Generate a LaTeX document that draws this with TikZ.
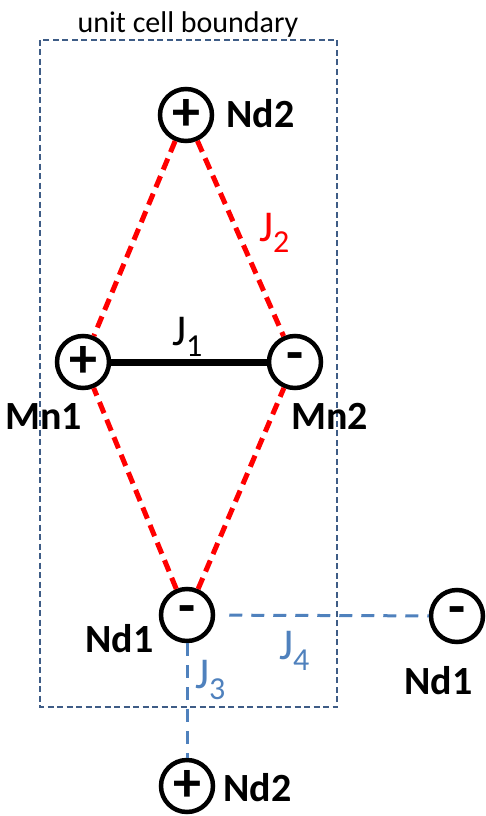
\documentclass[tikz,border=0pt]{standalone}
\usepackage{fontspec}
\setmainfont{Carlito}
\definecolor{jblue}{RGB}{79,129,189}
\definecolor{cellblue}{RGB}{62,92,134}
\definecolor{jred}{RGB}{255,0,0}
\newcommand\Jlab[1]{{\fontsize{44}{44}\selectfont J}\raisebox{-11pt}{\fontsize{32}{32}\selectfont #1}}
\begin{document}
\begin{tikzpicture}[x=1pt,y=-1pt,
 site/.style={circle,draw=black,line width=4.5pt,minimum size=52pt,inner sep=0pt,font=\fontsize{56}{56}\selectfont\bfseries},
 lab/.style={anchor=base west,inner sep=0pt,font=\fontsize{40}{40}\selectfont\bfseries},
 jlab/.style={anchor=base west,inner sep=0pt},
 redbond/.style={draw=jred,line width=5pt,dash pattern=on 12pt off 7pt},
 bluebond/.style={draw=jblue,line width=3pt,dash pattern=on 13pt off 9pt},
 cell/.style={draw=cellblue,line width=2.5pt,dash pattern=on 6pt off 3.5pt},
]
\useasboundingbox (0,0) rectangle (486,816);
% unit cell
\draw[cell] (40,40) rectangle (337,707);
\node[anchor=base,inner sep=0pt,font=\fontsize{30}{30}\selectfont] (title) at (188,33) {unit cell boundary};
% sites
\node[site] (nd2t) at (186,115) {+};
\node[site] (mn1) at (83,362) {+};
\node[site] (mn2) at (295,362) {-};
\node[site] (nd1b) at (187,615) {-};
\node[site] (nd1r) at (457,616) {-};
\node[site] (nd2b) at (187,786) {+};
% labels
\node[lab] (lnd2t) at (226,127) {Nd2};
\node[lab] (lmn1) at (5,429) {Mn1};
\node[lab] (lmn2) at (291,429) {Mn2};
\node[lab] (lnd1b) at (85,652) {Nd1};
\node[lab] (lnd1r) at (404,694) {Nd1};
\node[lab] (lnd2b) at (223,801) {Nd2};
% bonds
\draw[line width=7pt] (mn1) -- (mn2);
\draw[redbond] (nd2t) -- (mn1);
\draw[redbond] (nd2t) -- (mn2);
\draw[redbond] (nd1b) -- (mn1);
\draw[redbond] (nd1b) -- (mn2);
\draw[bluebond,shorten <=14pt] (nd1b) -- (nd1r);
\draw[bluebond] (nd1b) -- (nd2b);
% exchange labels
\node[jlab,text=black] (j1) at (172,345) {\Jlab{1}};
\node[jlab,text=jred] (j2) at (259,241) {\Jlab{2}};
\node[jlab,text=jblue] (j3) at (195,688) {\Jlab{3}};
\node[jlab,text=jblue] (j4) at (279,659) {\Jlab{4}};
\end{tikzpicture}
\end{document}
